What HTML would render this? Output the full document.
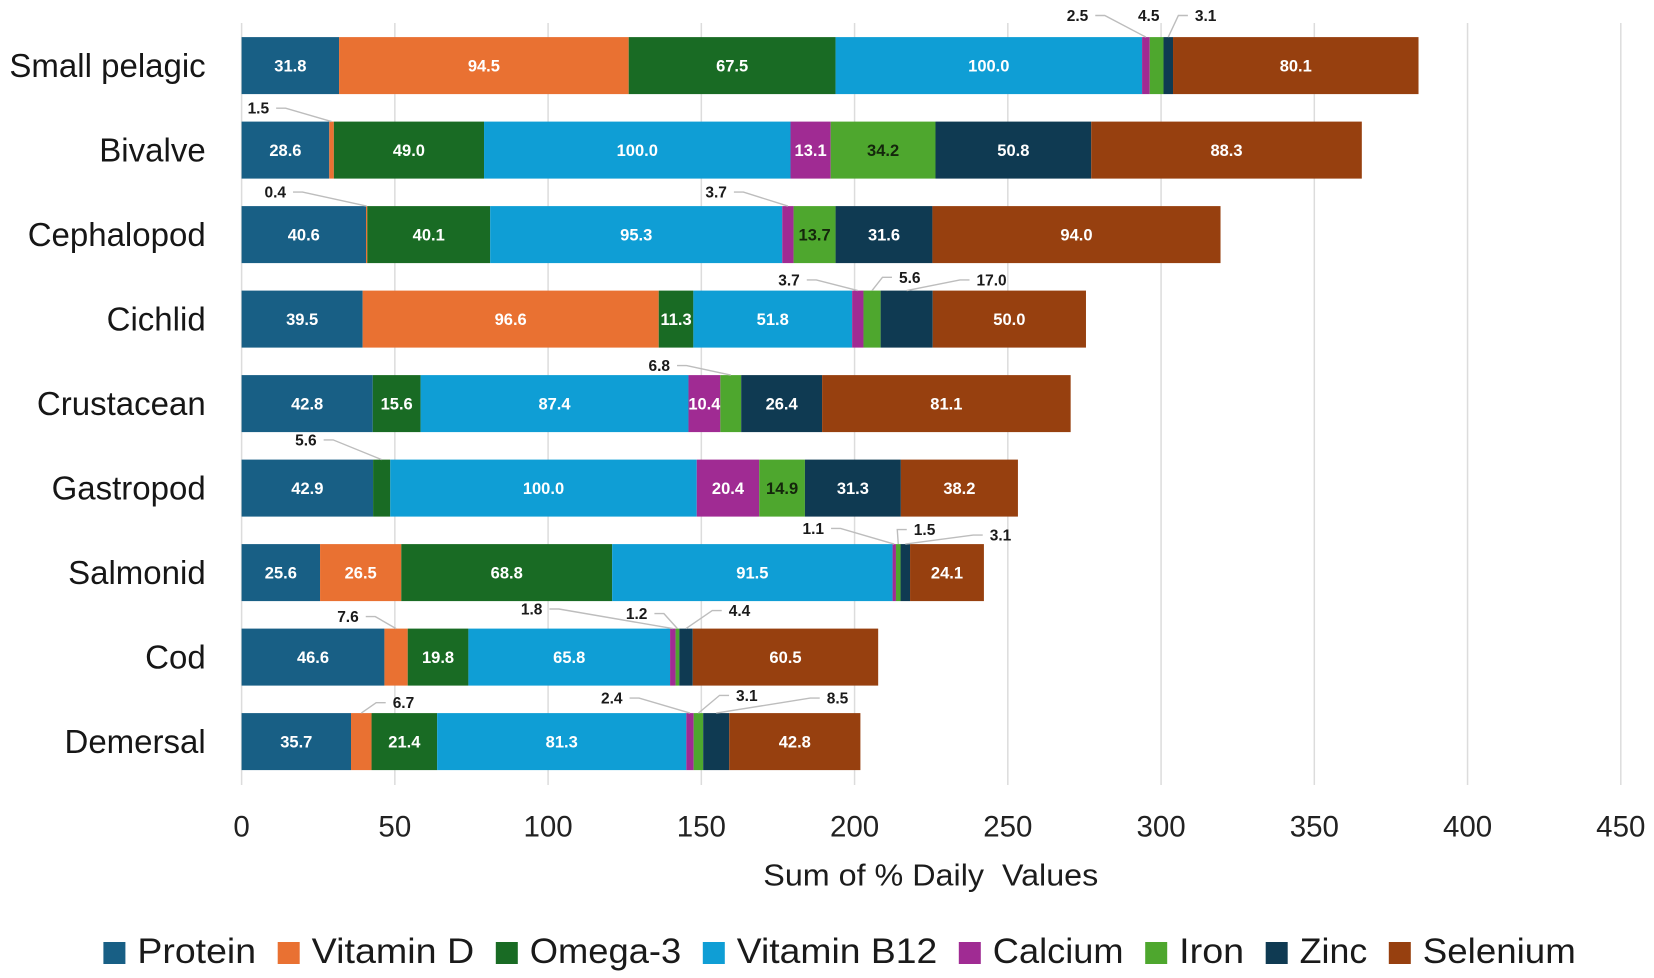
<!DOCTYPE html>
<html lang="en">
<head>
<meta charset="utf-8">
<title>Sum of % Daily Values by seafood group</title>
<style>
html,body{margin:0;padding:0;background:#fff;}
#chart{display:block;width:1654px;height:978px;font-family:"Liberation Sans",sans-serif;}
text{white-space:pre;}
</style>
</head>
<body>
<svg id="chart" xmlns="http://www.w3.org/2000/svg" width="1654" height="978" viewBox="0 0 1654 978">
  <g id="grid"></g>
  <g id="bars"></g>
  <g id="callouts"></g>
  <g id="cats"></g>
  <g id="ticks"></g>
  <text id="xtitle" x="930.8" y="885.5" text-anchor="middle" font-size="31" fill="#1c1c1c" textLength="335" lengthAdjust="spacingAndGlyphs">Sum of % Daily  Values</text>
  <g id="legend"></g>
</svg>
<script>
const categories = ['Small pelagic','Bivalve','Cephalopod','Cichlid','Crustacean','Gastropod','Salmonid','Cod','Demersal'];
const seriesNames = ['Protein','Vitamin D','Omega-3','Vitamin B12','Calcium','Iron','Zinc','Selenium'];
const protein    = [31.8,28.6,40.6,39.5,42.8,42.9,25.6,46.6,35.7];
const vitaminD   = [94.5,1.5,0.4,96.6,0,0,26.5,7.6,6.7];
const omega3     = [67.5,49.0,40.1,11.3,15.6,5.6,68.8,19.8,21.4];
const vitaminB12 = [100.0,100.0,95.3,51.8,87.4,100.0,91.5,65.8,81.3];
const calcium    = [2.5,13.1,3.7,3.7,10.4,20.4,1.1,1.8,2.4];
const iron       = [4.5,34.2,13.7,5.6,6.8,14.9,1.5,1.2,3.1];
const zinc       = [3.1,50.8,31.6,17.0,26.4,31.3,3.1,4.4,8.5];
const selenium   = [80.1,88.3,94.0,50.0,81.1,38.2,24.1,60.5,42.8];
const xTicks = [0,50,100,150,200,250,300,350,400,450];

const seriesValues = [protein,vitaminD,omega3,vitaminB12,calcium,iron,zinc,selenium];
const seriesColors = ['#185F85','#E97132','#196B24','#0F9ED5','#A02B93','#4EA72E','#0F3A52','#97400F'];
const seriesText   = ['#fff','#fff','#fff','#fff','#fff','#14260c','#fff','#fff'];

/* Manual callout placement: category, series, label offset from the top-centre of the segment, leader on/off */
const calloutLayout = [
  [0,4,-68.4,-21.6,1],[0,5,-7.9,-21.6,0],[0,6,37.4,-21.6,1],
  [1,1,-73.2,-13.4,1],
  [2,1,-91.4,-14,1],[2,4,-71.8,-14,1],
  [3,4,-68.8,-10.7,1],[3,5,37.7,-13.3,1],[3,6,84.9,-10.7,1],
  [4,5,-71.5,-9.5,1],
  [5,2,-75.8,-19.7,1],
  [6,4,-81,-15.7,1],[6,5,26.3,-14.5,1],[6,6,95.2,-9,1],
  [7,1,-48.1,-12,1],[7,4,-141.2,-19.6,1],[7,5,-40.8,-15,1],[7,6,53.5,-18,1],
  [8,1,42.2,-10.4,1],[8,4,-78.2,-15,1],[8,5,48.4,-17.7,1],[8,6,121.3,-15,1]
];

/* Legend label widths, matching the narrower face of the original */
const legendTextWidths = [118.7,162.5,151.4,200.4,130.8,64.9,67.5,153];

const NS = 'http://www.w3.org/2000/svg';
const xZero = 241.6, xMax = 1620.8, domainMax = 450;
const bandTop = 23.35, bandStep = 84.5, barH = 57;
const x = v => xZero + (xMax - xZero) * v / domainMax;
const yBar = i => bandTop + bandStep * i + (bandStep - barH) / 2;
const slug = s => s.toLowerCase().replace(/[^a-z0-9]+/g, '-');
const mk = (tag, parent) => { const e = document.createElementNS(NS, tag); parent.appendChild(e); return e; };

const gGrid = document.getElementById('grid');
const gBars = document.getElementById('bars');
const gCall = document.getElementById('callouts');
const gCats = document.getElementById('cats');
const gTicks = document.getElementById('ticks');
const gLegend = document.getElementById('legend');

xTicks.forEach(t => {
  const l = mk('line', gGrid);
  
  
  l.setAttribute('x1', x(t)); l.setAttribute('x2', x(t));
  l.setAttribute('y1', 23); l.setAttribute('y2', 785);
  l.setAttribute('stroke', '#dcdcdc'); l.setAttribute('stroke-width', '1.5');
  const s = mk('text', gTicks);
  
  
  s.setAttribute('x', x(t)); s.setAttribute('y', 836.3);
  s.setAttribute('text-anchor', 'middle');
  s.setAttribute('font-size', '29.5'); s.setAttribute('fill', '#222');
  s.textContent = String(t);
});

const hasCallout = (c, s) => calloutLayout.some(k => k[0] === c && k[1] === s);
const segCentre = (c, s) => {
  let cum = 0;
  for (let k = 0; k < s; k++) cum += seriesValues[k][c];
  return x(cum + seriesValues[s][c] / 2);
};

categories.forEach((cat, c) => {
  const t = mk('text', gCats);
  
  
  t.setAttribute('x', 205.7); t.setAttribute('y', yBar(c) + barH / 2 + 11.5);
  t.setAttribute('text-anchor', 'end');
  t.setAttribute('font-size', '33'); t.setAttribute('fill', '#161616');
  t.textContent = cat;

  let cum = 0;
  seriesValues.forEach((vals, s) => {
    const v = vals[c];
    if (v > 0) {
      const r = mk('rect', gBars);
      
      
      r.setAttribute('x', x(cum)); r.setAttribute('y', yBar(c));
      r.setAttribute('width', x(cum + v) - x(cum)); r.setAttribute('height', barH);
      r.setAttribute('fill', seriesColors[s]);
      if (!hasCallout(c, s)) {
        const l = mk('text', gBars);
        
        
        l.setAttribute('x', x(cum + v / 2)); l.setAttribute('y', yBar(c) + barH / 2 + 6);
        l.setAttribute('text-anchor', 'middle');
        l.setAttribute('font-size', '16.5'); l.setAttribute('font-weight', 'bold');
        l.setAttribute('fill', seriesText[s]);
        l.textContent = v.toFixed(1);
      }
    }
    cum += v;
  });
});

calloutLayout.forEach(k => {
  const [c, s, dx, dy, leader] = k;
  const tipX = segCentre(c, s), tipY = yBar(c);
  const cx = tipX + dx, cy = tipY + dy;
  const t = mk('text', gCall);
  
  
  t.setAttribute('x', cx); t.setAttribute('y', cy + 5.5);
  t.setAttribute('text-anchor', 'middle');
  t.setAttribute('font-size', '15.5'); t.setAttribute('font-weight', 'bold');
  t.setAttribute('fill', '#1a1a1a');
  t.textContent = seriesValues[s][c].toFixed(1);
  if (leader) {
    const half = t.getComputedTextLength() / 2 + 7;
    const dir = dx < 0 ? 1 : -1;
    const sx = cx + dir * half, ex = sx + dir * 9.5;
    const p = mk('polyline', gCall);
    
    
    p.setAttribute('points', sx + ',' + cy + ' ' + ex + ',' + cy + ' ' + tipX + ',' + tipY);
    p.setAttribute('fill', 'none');
    p.setAttribute('stroke', '#bdbdbd'); p.setAttribute('stroke-width', '1.4');
  }
});

let lx = 103.4;
seriesNames.forEach((name, s) => {
  const sw = mk('rect', gLegend);
  
  
  sw.setAttribute('x', lx); sw.setAttribute('y', 942);
  sw.setAttribute('width', 22); sw.setAttribute('height', 22);
  sw.setAttribute('fill', seriesColors[s]);
  const t = mk('text', gLegend);
  
  
  t.setAttribute('x', lx + 34); t.setAttribute('y', 963);
  t.setAttribute('font-size', '35'); t.setAttribute('fill', '#1a1a1a');
  t.setAttribute('textLength', legendTextWidths[s]);
  t.setAttribute('lengthAdjust', 'spacingAndGlyphs');
  t.textContent = name;
  lx += 34 + legendTextWidths[s] + 21.6;
});
</script>
</body>
</html>
